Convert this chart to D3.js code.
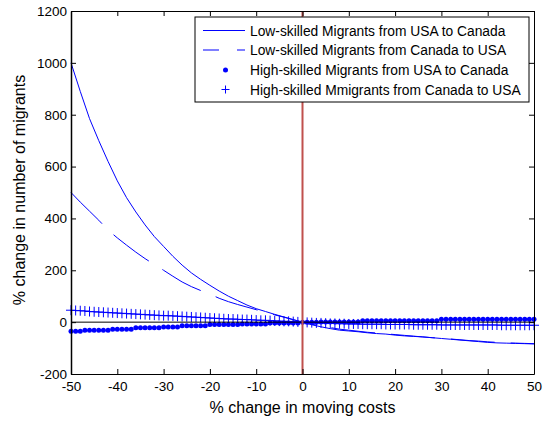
<!DOCTYPE html>
<html><head><meta charset="utf-8">
<script src="https://cdn.jsdelivr.net/npm/d3@7"></script>
<style>
body{margin:0;background:#fff}
svg{display:block}
text{font-family:"Liberation Sans",Arial,sans-serif;fill:#000}
</style>
</head><body>
<svg id="chart" width="553" height="426"></svg>
<script>
// ---------- data ----------
const xTicks = [-50, -40, -30, -20, -10, 0, 10, 20, 30, 40, 50];
const yTicks = [-200, 0, 200, 400, 600, 800, 1000, 1200];

const xLine = [-50,-48,-46,-44,-42,-40,-38,-36,-34,-32,-30,-28,-26,-24,-22,-20,-18,-16,-14,-12,-10,-8,-6,-4,-2,
  0,2,4,6,8,10,12,14,16,18,20,22,24,26,28,30,32,34,36,38,40,42,44,46,48,50];
const lowUsaToCanada = [1000,890,785,700,620,545,480,425,375,330,292,254,220,190,165,142,120,100,83,66,52,41,30,20,10,
  0,-10,-18,-25,-31,-34,-37,-41,-44,-46,-50,-53,-55,-57,-60,-63,-66,-69,-72,-75,-78,-80,-81,-82,-83,-84];
const lowCanadaToUsa = [500,463,428,393,355,325,297,270,245,222,200,177,155,137,122,108,92,79,68,58,48,38,28,19,9,
  0,-8,-15,-21,-27,-31,-35,-39,-42,-45,-48,-51,-54,-57,-60,-62,-65,-68,-71,-73,-76,-78,-80,-81,-82,-83];

const xMarker = [-50,-49,-48,-47,-46,-45,-44,-43,-42,-41,-40,-39,-38,-37,-36,-35,-34,-33,-32,-31,
  -30,-29,-28,-27,-26,-25,-24,-23,-22,-21,-20,-19,-18,-17,-16,-15,-14,-13,-12,-11,
  -10,-9,-8,-7,-6,-5,-4,-3,-2,-1,0,1,2,3,4,5,6,7,8,9,
  10,11,12,13,14,15,16,17,18,19,20,21,22,23,24,25,26,27,28,29,
  30,31,32,33,34,35,36,37,38,39,40,41,42,43,44,45,46,47,48,49,50];
const highUsaToCanada = [-35,-35,-35,-31,-31,-31,-31,-31,-31,-27,
  -27,-27,-27,-27,-22,-22,-22,-22,-22,-22,
  -19,-19,-19,-19,-14,-14,-14,-14,-14,-14,
  -9,-9,-9,-9,-9,-9,-9,-7,-7,-7,
  -7,-7,-7,-3,-3,-3,-3,-3,-3,-3,
  0,0,0,0,1,1,1,1,1,1,
  1,1,1,5,5,5,5,5,5,5,
  5,5,5,5,5,5,5,5,5,5,
  11,11,11,11,11,11,11,11,11,11,
  11,11,11,11,11,11,11,11,11,11,
  11];
const highCanadaToUsa = [46,45,44,43,41,40,39,38,37,36,
  35,34,33,32,31,30,29,28,27,26,
  25,25,24,23,22,21,20,19,18,17,
  16,15,14,13,12,12,11,10,10,9,
  8,7,7,6,5,4,3,3,2,1,
  0,-1,-2,-3,-3,-4,-5,-5,-6,-6,
  -7,-7,-7,-8,-8,-8,-8,-8,-9,-9,
  -9,-9,-9,-9,-10,-10,-10,-10,-10,-10,
  -11,-11,-11,-11,-11,-11,-11,-11,-11,-11,
  -11,-11,-11,-12,-12,-12,-12,-12,-12,-12,
  -12];

const legendLabels = [
  "Low-skilled Migrants from USA to Canada",
  "Low-skilled Migrants from Canada to USA",
  "High-skilled Migrants from USA to Canada",
  "High-skilled Mmigrants from Canada to USA"
];
const xLabel = "% change in moving costs";
const yLabel = "% change in number of migrants";

// ---------- layout ----------
const L = 71, R = 534, T = 11, B = 374;
const blue = "#0000ff";
const svg = d3.select("#chart");
const x = d3.scaleLinear().domain([-50, 50]).range([L, R]);
const y = d3.scaleLinear().domain([-200, 1200]).range([B, T]);
const fmt = d => String(d);

svg.append("rect").attr("width", 553).attr("height", 426).attr("fill", "#fff");

// data lines
const line = d3.line().x(d => x(d[0])).y(d => y(d[1]));
svg.append("path").datum(xLine.map((v, i) => [v, lowUsaToCanada[i]]))
  .attr("d", line).attr("fill", "none").attr("stroke", blue).attr("stroke-width", 1);
svg.append("path").datum(xLine.map((v, i) => [v, lowCanadaToUsa[i]]))
  .attr("d", line).attr("fill", "none").attr("stroke", blue).attr("stroke-width", 1)
  .attr("stroke-dasharray", "44,16");

// markers
svg.append("g").selectAll("circle").data(xMarker.map((v, i) => [v, highUsaToCanada[i]]))
  .join("circle").attr("cx", d => x(d[0])).attr("cy", d => y(d[1])).attr("r", 2.5).attr("fill", blue);
const plusPath = "M-5,0H5M0,-5V5";
svg.append("g").selectAll("path").data(xMarker.map((v, i) => [v, highCanadaToUsa[i]]))
  .join("path").attr("transform", d => `translate(${x(d[0])},${y(d[1])})`)
  .attr("d", plusPath).attr("stroke", blue).attr("stroke-width", 1).attr("fill", "none");

// zero line & red vertical line
svg.append("line").attr("x1", L).attr("x2", R).attr("y1", y(0)).attr("y2", y(0))
  .attr("stroke", "#000").attr("stroke-width", 1);
svg.append("line").attr("x1", x(0)).attr("x2", x(0)).attr("y1", y(-200)).attr("y2", y(1200))
  .attr("stroke", "#c0504d").attr("stroke-width", 2);

// axes
const fs = "13.5px";
const gx = svg.append("g").attr("transform", `translate(0,${B})`)
  .call(d3.axisBottom(x).tickValues(xTicks).tickFormat(fmt).tickSizeInner(-5).tickSizeOuter(0).tickPadding(7));
const gy = svg.append("g").attr("transform", `translate(${L},0)`)
  .call(d3.axisLeft(y).tickValues(yTicks).tickFormat(fmt).tickSizeInner(-5).tickSizeOuter(0).tickPadding(4));
const gt = svg.append("g").attr("transform", `translate(0,${T})`)
  .call(d3.axisTop(x).tickValues(xTicks).tickSizeInner(-5).tickSizeOuter(0).tickFormat(""));
const gr = svg.append("g").attr("transform", `translate(${R},0)`)
  .call(d3.axisRight(y).tickValues(yTicks).tickSizeInner(-5).tickSizeOuter(0).tickFormat(""));
[gx, gy, gt, gr].forEach(g => {
  g.selectAll("path.domain").attr("stroke", "#000").attr("stroke-width", 1);
  g.selectAll(".tick line").attr("stroke", "#000");
  g.selectAll("text").style("font-size", fs).style("font-family", '"Liberation Sans",Arial,sans-serif').attr("fill", "#000");
});
gy.select("path.domain").attr("stroke-width", 1.5);

// axis labels
svg.append("text").attr("x", (L + R) / 2).attr("y", 413).attr("text-anchor", "middle")
  .style("font-size", "16px").text(xLabel);
svg.append("text").attr("transform", `translate(25,${190}) rotate(-90)`).attr("text-anchor", "middle")
  .style("font-size", "16px").text(yLabel);

// legend
const lg = svg.append("g");
lg.append("rect").attr("x", 195).attr("y", 17).attr("width", 334).attr("height", 85)
  .attr("fill", "#fff").attr("stroke", "#000").attr("stroke-width", 1);
const rowY = [30.5, 50, 70, 89.5];
lg.append("line").attr("x1", 203).attr("x2", 245).attr("y1", rowY[0]).attr("y2", rowY[0])
  .attr("stroke", blue).attr("stroke-width", 1);
lg.append("line").attr("x1", 203).attr("x2", 245).attr("y1", rowY[1]).attr("y2", rowY[1])
  .attr("stroke", blue).attr("stroke-width", 1).attr("stroke-dasharray", "16,18");
lg.append("circle").attr("cx", 225.5).attr("cy", rowY[2]).attr("r", 2.5).attr("fill", blue);
lg.append("path").attr("d", `M221.5,${rowY[3]}H229.5M225.5,${rowY[3] - 4}V${rowY[3] + 4}`)
  .attr("fill", "none").style("stroke", blue).style("stroke-width", 1);
lg.selectAll("text.lbl").data(legendLabels).join("text").attr("class", "lbl")
  .attr("x", 250).attr("y", (d, i) => rowY[i] + 5).style("font-size", "13.8px").text(d => d);
</script>
</body></html>
